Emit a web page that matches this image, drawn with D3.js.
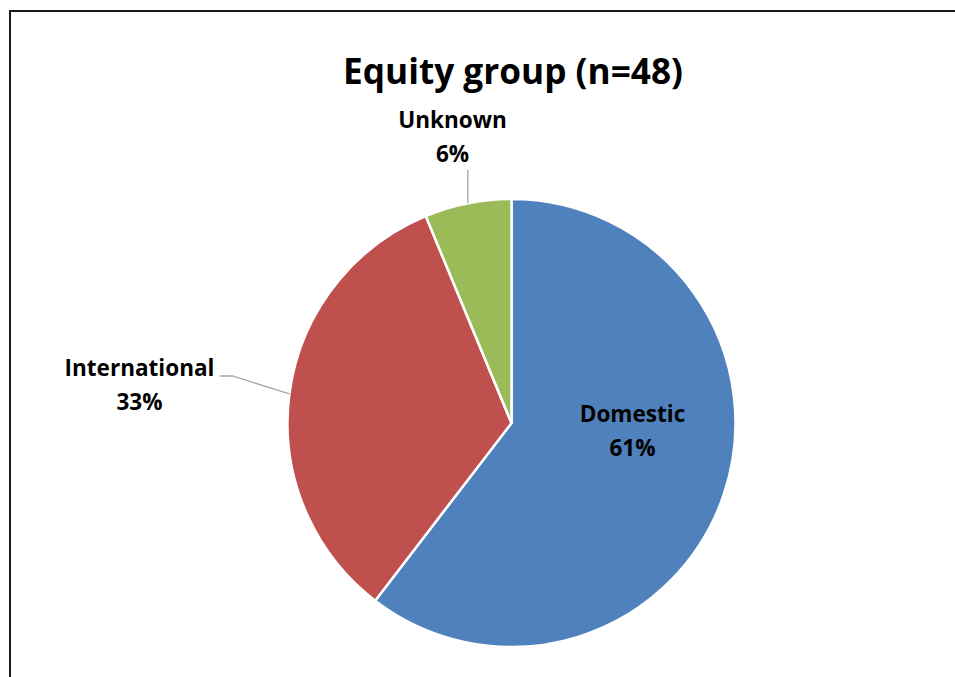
<!DOCTYPE html>
<html>
<head>
<meta charset="utf-8">
<script src="https://cdn.jsdelivr.net/npm/d3@7"></script>
<style>
  body { margin: 0; background: #fff; }
  text { font-family: "Open Sans", sans-serif; font-weight: 700; fill: #000; }
</style>
</head>
<body>
<div id="chart-area"></div>
<script>
const WIDTH = 955;
const HEIGHT = 677;

// data (n = 48)
const categories = ["Domestic", "International", "Unknown"];
const counts = [29, 16, 3];
const percentLabels = ["61%", "33%", "6%"];
const colors = ["#4F81BD", "#C0504D", "#9BBB59"];

const CX = 511.5, CY = 423, R = 224;

const svg = d3.select("#chart-area").append("svg")
    .attr("width", WIDTH)
    .attr("height", HEIGHT);

// fit a font size so that a text spans a given width
const fitSize = (sel, target) => {
    const base = 20;
    sel.attr("font-size", base + "px");
    const w = sel.node().getComputedTextLength();
    return base * target / w;
};

// outer frame (runs off the right and bottom edges)
svg.append("rect")
    .attr("x", 10)
    .attr("y", 11)
    .attr("width", WIDTH + 20)
    .attr("height", HEIGHT + 20)
    .attr("fill", "none")
    .attr("stroke", "#1a1a1a")
    .attr("stroke-width", 2);

// title
const title = svg.append("text")
    .attr("x", 513)
    .attr("y", 84)
    .attr("text-anchor", "middle")
    .text("Equity group (n=48)");
title.attr("font-size", fitSize(title, 340) + "px");

const pie = d3.pie().sort(null).value(d => d)(counts);
const arc = d3.arc().innerRadius(0).outerRadius(R);

const g = svg.append("g")
    .attr("transform", `translate(${CX}, ${CY})`);

g.selectAll("path")
    .data(pie)
    .enter().append("path")
    .attr("d", arc)
    .attr("fill", (d, i) => colors[i])
    .attr("stroke", "#fff")
    .attr("stroke-width", 2.5)
    .attr("stroke-linejoin", "round");

// label font size, fitted on the longest label
const probe = g.append("text").text("International");
const labelSize = fitSize(probe, 150);
probe.remove();

// label placement (first baseline, offset from pie centre)
const labelPos = [
    { x: 121, y: -1 },
    { x: -372, y: -47 },
    { x: -59, y: -295 }
];

pie.forEach((d, i) => {
    const p = labelPos[i];
    const t = g.append("text")
        .attr("text-anchor", "middle")
        .attr("font-size", labelSize + "px");
    t.append("tspan").attr("x", p.x).attr("y", p.y).text(categories[i]);
    t.append("tspan").attr("x", p.x).attr("y", p.y + 34).text(percentLabels[i]);
});

// leader lines, ending on the slice edge at its mid angle
const edgePoint = (d) => {
    const a = (d.startAngle + d.endAngle) / 2;
    return [R * Math.sin(a), -R * Math.cos(a)];
};

const ie = edgePoint(pie[1]);
g.append("polyline")
    .attr("points", [[-292, -47], [-279, -47], ie].map(p => p.join(",")).join(" "))
    .attr("fill", "none")
    .attr("stroke", "#a6a6a6")
    .attr("stroke-width", 1.3);

const ue = edgePoint(pie[2]);
g.append("line")
    .attr("x1", ue[0]).attr("y1", -253)
    .attr("x2", ue[0]).attr("y2", ue[1])
    .attr("stroke", "#a6a6a6")
    .attr("stroke-width", 1.3);
</script>
</body>
</html>
